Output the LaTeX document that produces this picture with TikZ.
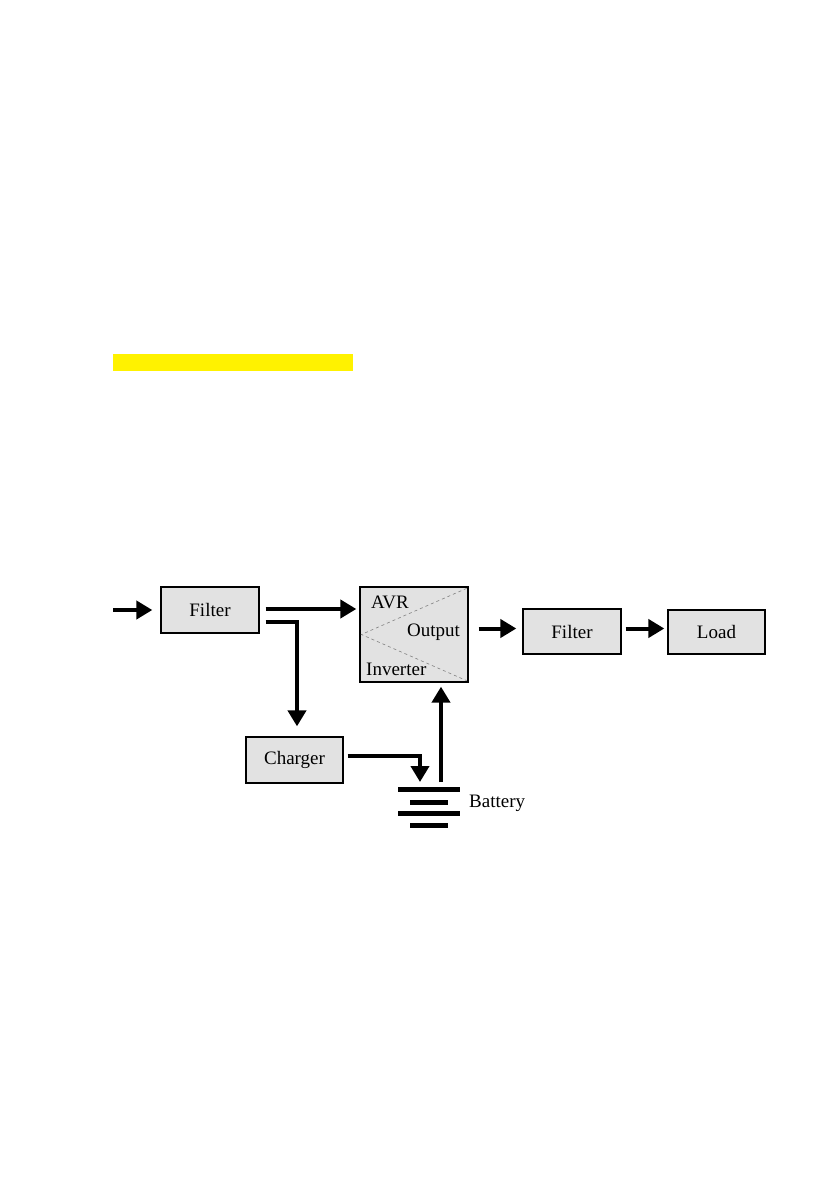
\documentclass[tikz,border=0pt]{standalone}
\usepackage{fontspec}
\setmainfont{Liberation Serif}
\usetikzlibrary{arrows.meta}
\definecolor{boxgray}{RGB}{226,226,226}

\begin{document}
\begin{tikzpicture}[x=1pt,y=-1pt,
    block/.style={draw,line width=1.3pt,fill=boxgray,inner sep=0pt,font=\fontsize{19}{22}\selectfont},
    flow/.style={line width=4pt,-{Triangle[length=16pt,width=18pt]}},
    lbl/.style={font=\fontsize{19}{22}\selectfont,inner sep=0pt}]
    \useasboundingbox (0,0) rectangle (839,1191);

    % Highlight bar
    \fill[yellow] (113,354) rectangle (353,371);

    % Blocks
    \node[block,minimum width=98pt,minimum height=46pt] (filterA) at (210,610) {Filter};
    \node[block,minimum width=108pt,minimum height=95pt] (avr) at (414,634.5) {};
    \node[block,minimum width=98pt,minimum height=45pt] (filterB) at (572,631.5) {Filter};
    \node[block,minimum width=97pt,minimum height=44pt] (load) at (716.5,632) {Load};
    \node[block,minimum width=97pt,minimum height=46pt] (charger) at (294.5,760) {Charger};

    % Dashed split inside the AVR block
    \draw[gray,dashed,line width=0.6pt] ([shift={(-2pt,-2pt)}]avr.north east) -- ([xshift=2pt]avr.west)
        -- ([shift={(-2pt,2pt)}]avr.south east);
    \node[lbl,anchor=west] (avrlbl) at (371,602) {AVR};
    \node[lbl,anchor=west] (outlbl) at (407,632) {Output};
    \node[lbl,anchor=west] (invlbl) at (366,669) {Inverter};

    % Battery plates
    \coordinate (batt) at (429,789);
    \foreach \dy/\hw in {0/31,13/19,24/31,36/19}
        \draw[line width=5pt] ([shift={(-\hw pt,-\dy pt)}]batt) -- ([shift={(\hw pt,-\dy pt)}]batt);
    \node[lbl,anchor=west] (battlbl) at (469,803) {Battery};

    % Power flow
    \coordinate (in) at (113,610);
    \draw[flow,shorten >=8pt] (in) -- (in -| filterA.west);
    \draw[flow,shorten <=6pt,shorten >=3pt] ([yshift=1pt]filterA.east) -- ([yshift=1pt]filterA.east -| avr.west);
    \draw[flow] ([shift={(6pt,-12pt)}]filterA.east) -| ([shift={(2.5pt,10pt)}]charger.north);
    \draw[flow,shorten <=10pt,shorten >=6pt] ([yshift=3pt]filterB.west -| avr.east) -- ([yshift=3pt]filterB.west);
    \draw[flow,shorten <=4pt,shorten >=3pt] ([yshift=3pt]filterB.east) -- ([yshift=3pt]filterB.east -| load.west);
    \draw[flow] ([shift={(4pt,4pt)}]charger.east) -| ([shift={(-9pt,7pt)}]batt);
    \draw[flow] ([shift={(12pt,7pt)}]batt) -- ([shift={(27pt,-4pt)}]avr.south);

\end{tikzpicture}
\end{document}
